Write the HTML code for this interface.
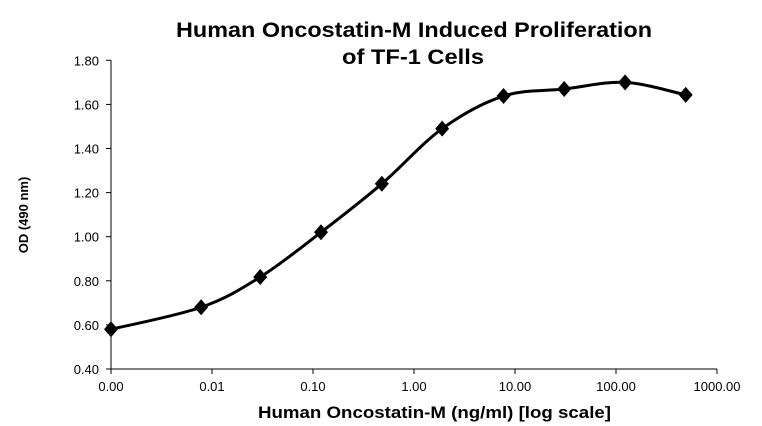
<!DOCTYPE html>
<html><head><meta charset="utf-8"><style>
body{margin:0;background:#fff}
svg{display:block;font-family:"Liberation Sans",Arial,sans-serif}
</style></head><body>
<svg id="chart" width="762" height="426" viewBox="0 0 762 426">
<text x="176" y="37" textLength="476" lengthAdjust="spacingAndGlyphs" font-size="21" font-weight="bold">Human Oncostatin-M Induced Proliferation</text>
<text x="342" y="64" textLength="142" lengthAdjust="spacingAndGlyphs" font-size="21" font-weight="bold">of TF-1 Cells</text>
<text transform="translate(28,215) rotate(-90)" text-anchor="middle" font-size="13" font-weight="bold">OD (490 nm)</text>
<text x="258" y="418" textLength="353" lengthAdjust="spacingAndGlyphs" font-size="17" font-weight="bold">Human Oncostatin-M (ng/ml) [log scale]</text>
<g id="axes"></g>
<g id="marks"></g>
</svg>
<script>
const xTickLabels=["0.00","0.01","0.10","1.00","10.00","100.00","1000.00"];
const yTickLabels=["0.40","0.60","0.80","1.00","1.20","1.40","1.60","1.80"];
const concentrations=[0.001,0.0078,0.03,0.12,0.48,1.9,7.7,30.7,123,490];
const odValues=[0.58,0.68,0.817,1.02,1.24,1.49,1.638,1.67,1.70,1.643];
const NS="http://www.w3.org/2000/svg";
const X0=111,DEC=101,Y0=369,YS=44.1/0.2;
function xs(v){return X0+(Math.log10(v)+3)*DEC;}
function ys(v){return Y0-(v-0.4)*YS;}
function mk(t,a,p){const e=document.createElementNS(NS,t);for(const k in a)e.setAttribute(k,a[k]);p.appendChild(e);return e;}
const ax=document.getElementById('axes'),mg=document.getElementById('marks');
let l=mk('line',{x1:X0,y1:ys(1.8),x2:X0,y2:Y0,stroke:'#000','stroke-width':1},ax);


l=mk('line',{x1:X0,y1:Y0,x2:xs(1000),y2:Y0,stroke:'#000','stroke-width':1},ax);


yTickLabels.forEach(s=>{const y=ys(parseFloat(s));
 mk('line',{x1:X0-5,y1:y,x2:X0,y2:y,stroke:'#000'},ax);
 const t=mk('text',{x:X0-12,y:y+5,'text-anchor':'end','font-size':13},ax);t.textContent=s;
 
 });
xTickLabels.forEach((s,i)=>{const x=xs(Math.pow(10,i-3));
 mk('line',{x1:x,y1:Y0,x2:x,y2:Y0+5,stroke:'#000'},ax);
 const t=mk('text',{x:x,y:Y0+22,'text-anchor':'middle','font-size':13},ax);t.textContent=s;
 
 });
const P=concentrations.map((c,i)=>[xs(c),ys(odValues[i])]);
let d='M'+P[0][0]+','+P[0][1];
for(let i=0;i<P.length-1;i++){const p0=P[Math.max(0,i-1)],p1=P[i],p2=P[i+1],p3=P[Math.min(P.length-1,i+2)];
 const c1=[p1[0]+(p2[0]-p0[0])/6,p1[1]+(p2[1]-p0[1])/6],c2=[p2[0]-(p3[0]-p1[0])/6,p2[1]-(p3[1]-p1[1])/6];
 d+=` C${c1[0]},${c1[1]} ${c2[0]},${c2[1]} ${p2[0]},${p2[1]}`;}
const path=mk('path',{d:d,fill:'none',stroke:'#000','stroke-width':3},mg);


P.forEach(p=>{const m=mk('polygon',{points:`${p[0]},${p[1]-8} ${p[0]+7},${p[1]} ${p[0]},${p[1]+8} ${p[0]-7},${p[1]}`,fill:'#000'},mg);
 
 });
</script>
</body></html>
